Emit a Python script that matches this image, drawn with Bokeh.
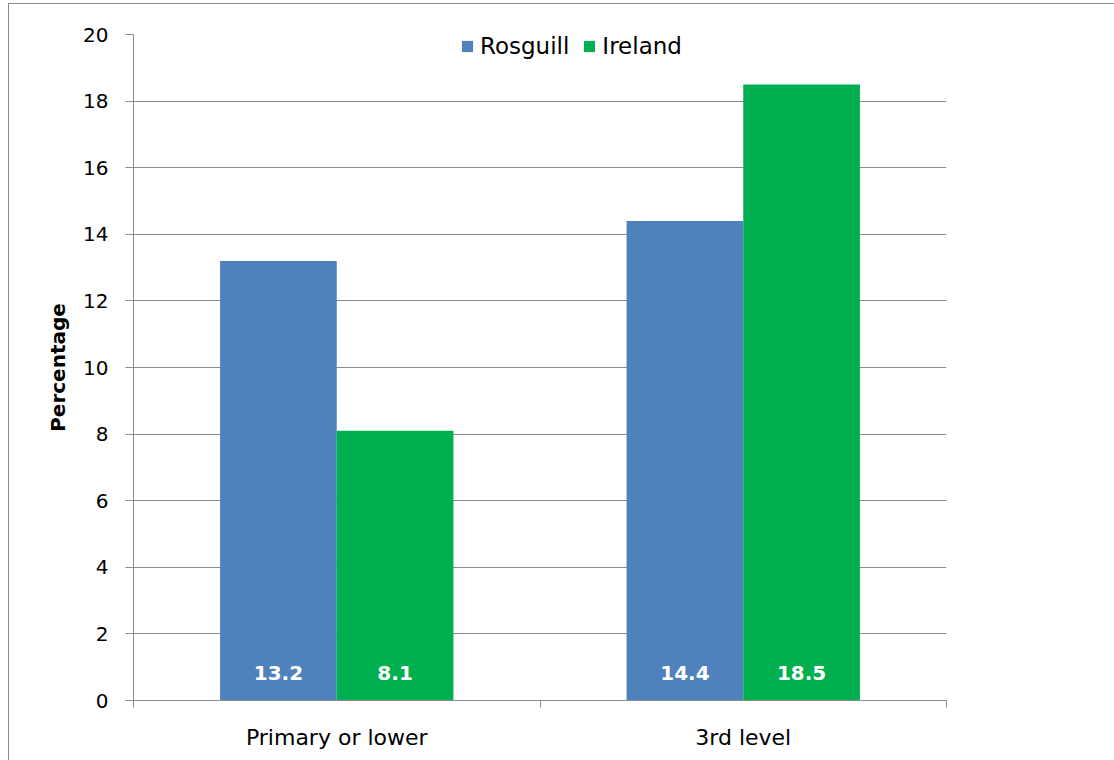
from bokeh.plotting import figure
from bokeh.models import Range1d, FixedTicker, LinearAxis, ColumnDataSource, Legend, Grid
from bokeh.core.properties import value
from bokeh.embed import file_html
from bokeh.resources import INLINE

categories = ["Primary or lower", "3rd level"]
series_names = ["Rosguill", "Ireland"]
rosguill = [13.2, 14.4]
ireland = [8.1, 18.5]
y_ticks = [0, 2, 4, 6, 8, 10, 12, 14, 16, 18, 20]
colors = ["#4F81BD", "#00B050"]

FONT = "DejaVu Sans"
GRID = "#8c8c8c"

p = figure(width=1106, height=757, x_range=Range1d(0, len(categories)), y_range=Range1d(0, 20),
           output_backend="svg", toolbar_location=None, x_axis_type=None, y_axis_type=None,
           min_border_left=124, min_border_right=169, min_border_top=30, min_border_bottom=61)
p.margin = (3, 0, 0, 8)
p.styles = {"border-left": "1px solid #8c8c8c", "border-top": "1px solid #8c8c8c"}
p.outline_line_color = None
p.background_fill_color = "white"
p.border_fill_color = "white"

bw = 0.287
centers = [i + 0.5 for i in range(len(categories))]
src = ColumnDataSource(dict(
    center=centers,
    xr=[c - bw / 2 for c in centers],
    xi=[c + bw / 2 for c in centers],
    rosguill=rosguill,
    ireland=ireland,
    lr=[f"{v:.1f}" for v in rosguill],
    li=[f"{v:.1f}" for v in ireland],
))

r1 = p.vbar(x="xr", top="rosguill", width=bw, source=src, fill_color=colors[0], line_color=None)
r2 = p.vbar(x="xi", top="ireland", width=bw, source=src, fill_color=colors[1], line_color=None)

label_y = 0.82
for col, xcol in (("lr", "xr"), ("li", "xi")):
    p.text(x=xcol, y=label_y, text=col, source=src, text_color="white", text_font=value(FONT),
           text_font_style="bold", text_font_size="20px", text_align="center", text_baseline="middle")

# y axis
yax = LinearAxis(ticker=FixedTicker(ticks=y_ticks))
yax.axis_line_color = GRID
yax.major_tick_line_color = GRID
yax.major_tick_out = 8
yax.major_tick_in = 0
yax.minor_tick_line_color = None
yax.major_label_standoff = 17
yax.major_label_text_font = FONT
yax.major_label_text_font_size = "20px"
yax.major_label_text_color = "black"
yax.axis_label = "Percentage"
yax.axis_label_text_font = FONT
yax.axis_label_text_font_style = "bold"
yax.axis_label_text_font_size = "20px"
yax.axis_label_text_color = "black"
yax.axis_label_standoff = 10
p.add_layout(yax, "left")

# x axis: labels at category centers, tick marks at category boundaries
xax = LinearAxis(ticker=FixedTicker(ticks=centers, minor_ticks=list(range(len(categories) + 1))))
xax.major_label_overrides = {c: name for c, name in zip(centers, categories)}
xax.axis_line_color = GRID
xax.major_tick_line_color = None
xax.major_tick_out = 7
xax.major_tick_in = 0
xax.minor_tick_line_color = GRID
xax.minor_tick_out = 7
xax.minor_tick_in = 0
xax.major_label_standoff = 17
xax.major_label_text_font = FONT
xax.major_label_text_font_size = "22px"
xax.major_label_text_color = "black"
p.add_layout(xax, "below")

g = Grid(dimension=1, ticker=FixedTicker(ticks=y_ticks), grid_line_color=GRID)
p.add_layout(g)

legend = Legend(items=[(series_names[0], [r1]), (series_names[1], [r2])], orientation="horizontal",
                location=(327, 641), glyph_width=14, glyph_height=14, label_standoff=6, spacing=13,
                padding=0, margin=0, border_line_color=None, background_fill_alpha=0,
                label_text_font=FONT, label_text_font_size="23px", label_text_color="black")
p.add_layout(legend)

open("out.html", "w").write(file_html(p, INLINE))
